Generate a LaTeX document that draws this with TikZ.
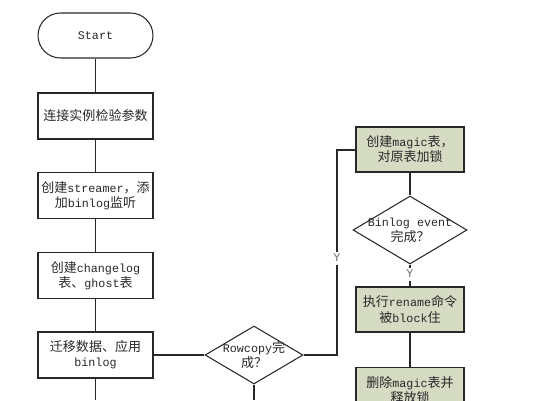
\documentclass[tikz,border=0pt]{standalone}
\usepackage{fontspec}
\setmainfont{Liberation Mono}[Scale=0.9]
\newfontfamily\cjk{Noto Sans CJK SC}
\usetikzlibrary{shapes.geometric}
\definecolor{boxgreen}{RGB}{214,219,196}
\definecolor{ink}{RGB}{40,40,40}
\begin{document}
\begin{tikzpicture}[x=0.02cm,y=-0.02cm,
  every node/.style={font=\fontsize{7.4pt}{8.6pt}\selectfont, text=ink},
  conn/.style={draw=ink, line width=0.6pt},
  proc/.style={draw=ink, line width=0.6pt, minimum width=2.3cm, minimum height=0.92cm, align=center, inner sep=0pt},
  gproc/.style={proc, fill=boxgreen, minimum width=2.16cm, minimum height=0.9cm},
  term/.style={proc, rounded corners=0.45cm, minimum height=0.9cm},
  dia/.style={diamond, draw=ink, line width=0.6pt, inner sep=0pt},
  lbl/.style={align=center, inner sep=0pt},
  ylbl/.style={fill=white, inner sep=1.5pt, text=ink!70}]
\clip (0,0) rectangle (550,400);
\fill[white] (0,0) rectangle (550,400);
% left column
\node[term] (start) at (95.5,35.5) {Start};
\node[proc] (b1) at (95.5,116) {\cjk 连接实例检验参数};
\node[proc] (b2) at (95.5,195.5) {{\cjk 创建}streamer{\cjk ，添}\\{\cjk 加}binlog{\cjk 监听}};
\node[proc] (b3) at (95.5,275.5) {{\cjk 创建}changelog\\{\cjk 表、}ghost{\cjk 表}};
\node[proc] (b4) at (95.5,355) {{\cjk 迁移数据、应用}\\binlog};
% diamond 1
\node[dia, minimum width=1.96cm, minimum height=1.16cm] (d1) at (254,355) {};
\node[lbl] (d1t) at (254,355) {Rowcopy{\cjk 完}\\{\cjk 成？}};
% right column
\node[gproc] (g1) at (410,149.5) {{\cjk 创建}magic{\cjk 表，}\\{\cjk 对原表加锁}};
\node[dia, minimum width=2.28cm, minimum height=1.36cm] (d2) at (410,230) {};
\node[lbl] (d2t) at (410,230) {Binlog event\\{\cjk 完成？}};
\node[gproc] (g2) at (410,309.5) {{\cjk 执行}rename{\cjk 命令}\\{\cjk 被}block{\cjk 住}};
\node[gproc] (g3) at (410,390) {{\cjk 删除}magic{\cjk 表并}\\{\cjk 释放锁}};
% free ends / corners
\coordinate (e1) at (95.5,400);
\coordinate (e2) at (254,400);
\coordinate (c1) at (337,355);
\coordinate (c2) at (337,150);
% connectors
\draw[conn] (start) -- (b1);
\draw[conn] (b1) -- (b2);
\draw[conn] (b2) -- (b3);
\draw[conn] (b3) -- (b4);
\draw[conn] (b4.south) -- (e1);
\draw[conn] (b4.east) -- (d1.west);
\draw[conn] (d1.south) -- (e2);
\draw[conn] (d1.east) -- (c1) -- (c2) -- (g1.west |- c2);
\node[ylbl] (y1) at (337,258) {Y};
\draw[conn] (g1.south) -- (d2.north);
\draw[conn] (d2.south) -- (g2.north);
\node[ylbl] (y2) at (410,274) {Y};
\draw[conn] (g2.south) -- (g3.north);
\end{tikzpicture}
\end{document}
